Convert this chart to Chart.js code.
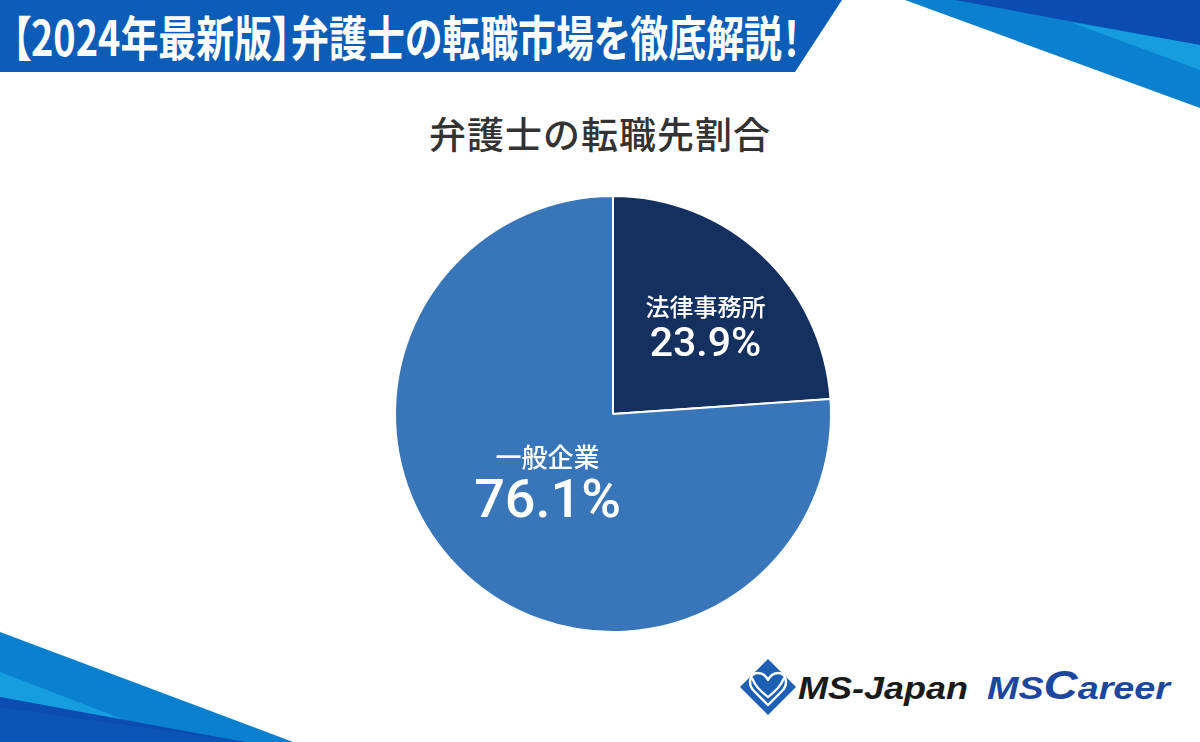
<!DOCTYPE html>
<html lang="ja">
<head>
<meta charset="utf-8">
<title>弁護士の転職先割合</title>
<script src="https://cdn.jsdelivr.net/npm/chart.js@4/dist/chart.umd.min.js"></script>
<style>
  html, body {
    margin: 0;
    padding: 0;
    background: #fff;
  }
  #page {
    position: relative;
    width: 1200px;
    height: 742px;
    overflow: hidden;
    font-family: "Noto Sans CJK JP", "Noto Sans", sans-serif;
  }
  #deco {
    position: absolute;
    left: 0;
    top: 0;
  }
  #header {
    position: absolute;
    left: 12px;
    top: 2px;
    color: #fff;
    font-weight: bold;
    font-size: 48px;
    line-height: 66px;
    white-space: nowrap;
    font-feature-settings: "palt";
    transform: scaleX(0.79);
    transform-origin: left center;
  }
  #title {
    position: absolute;
    left: 0;
    width: 1200px;
    top: 108px;
    text-align: center;
    color: #333;
    font-size: 37px;
    font-weight: 500;
    line-height: 50px;
    letter-spacing: 1px;
  }
  #chartWrap {
    position: absolute;
    left: 0;
    top: 0;
    width: 1200px;
    height: 742px;
  }
  .logo-text {
    font-family: "Liberation Sans", Arial, sans-serif;
    font-weight: bold;
    font-style: italic;
  }
</style>
</head>
<body>
<div id="page">
  <svg id="deco" width="1200" height="742" viewBox="0 0 1200 742">
    <!-- header banner -->
    <polygon points="0,0 842,0 795,72 0,72" fill="#0b5db7"/>
    <!-- top right stripes -->
    <polygon points="905,0 1200,0 1200,108" fill="#0a80cf"/>
    <polygon points="955,0 1200,0 1200,45" fill="#0a4cb0"/>
    <polygon points="1070,22 1200,45 1200,70" fill="#169ddf"/>
    <!-- bottom left stripes -->
    <polygon points="0,632 293,742 0,742" fill="#0a80cf"/>
    <polygon points="0,672 130,722 0,697" fill="#169ddf"/>
    <polygon points="0,697 245,742 0,742" fill="#0a4cb0"/>
    <polygon points="0,707 245,742 0,742" fill="#0b55b8"/>
    <!-- logo mark -->
    <polygon points="768,659 796,687 768,715 740,687" fill="#1d5fb3"/>
    <path d="M768,705 L754,691 C747,684 750,673 758,673 C763,673 766,676 768,680 C770,676 773,673 778,673 C786,673 789,684 782,691 Z"
          fill="none" stroke="#fff" stroke-width="2.4" stroke-linejoin="round"/>
    <path d="M752,678 C756,688 762,692 768,697 C774,692 780,688 784,678" fill="none" stroke="#fff" stroke-width="2.2"/>
    <text class="logo-text" x="798" y="699" font-size="32" fill="#1a1a1a" textLength="170" lengthAdjust="spacingAndGlyphs">MS-Japan</text>
    <text class="logo-text" x="987" y="699" font-size="32" fill="#1b479f" textLength="183" lengthAdjust="spacingAndGlyphs">MS<tspan font-size="40">C</tspan>areer</text>
  </svg>
  <div id="header">【2024年最新版】弁護士の転職市場を徹底解説！</div>
  <div id="title">弁護士の転職先割合</div>
  <div id="chartWrap"><canvas id="pieChart" width="1200" height="742"></canvas></div>
</div>
<script>
// data
const categories = ['法律事務所', '一般企業'];
const shares = [23.9, 76.1];
const sliceColors = ['#14305e', '#3876b9'];

// label placement: fraction of radius along the slice's middle angle (+ small angle shift, degrees)
const labelRadius = [0.58, 0.44];
const labelAngleShift = [4, 0];
const nameFontSize = [24, 26];
const valueFontSize = [41, 54];

const sliceLabels = {
    id: 'sliceLabels',
    afterDatasetsDraw(chart) {
        const ctx = chart.ctx;
        const meta = chart.getDatasetMeta(0);
        meta.data.forEach((arc, i) => {
            const p = arc.getProps(['x', 'y', 'startAngle', 'endAngle', 'outerRadius'], true);
            const mid = (p.startAngle + p.endAngle) / 2 + labelAngleShift[i] * Math.PI / 180;
            const r = p.outerRadius * labelRadius[i];
            const cx = p.x + Math.cos(mid) * r;
            const cy = p.y + Math.sin(mid) * r;

            ctx.save();
            ctx.fillStyle = '#fff';
            ctx.textAlign = 'center';
            ctx.textBaseline = 'middle';
            ctx.font = '500 ' + nameFontSize[i] + 'px "Noto Sans CJK JP"';
            ctx.fillText(categories[i], cx, cy - valueFontSize[i] * 0.5);
            ctx.font = '500 ' + valueFontSize[i] + 'px Roboto, "Noto Sans"';
            ctx.fillText(shares[i].toFixed(1) + '%', cx, cy + nameFontSize[i] * 0.75);
            ctx.restore();
        });
    }
};

new Chart(document.getElementById('pieChart'), {
    type: 'pie',
    data: {
        labels: categories,
        datasets: [{
            data: shares,
            backgroundColor: sliceColors,
            borderColor: '#ffffff',
            borderWidth: 2
        }]
    },
    options: {
        responsive: false,
        animation: false,
        layout: {
            padding: { left: 394, right: 368, top: 195, bottom: 109 }
        },
        plugins: {
            legend: { display: false },
            tooltip: { enabled: false },
            title: { display: false }
        }
    },
    plugins: [sliceLabels]
});
</script>
</body>
</html>
